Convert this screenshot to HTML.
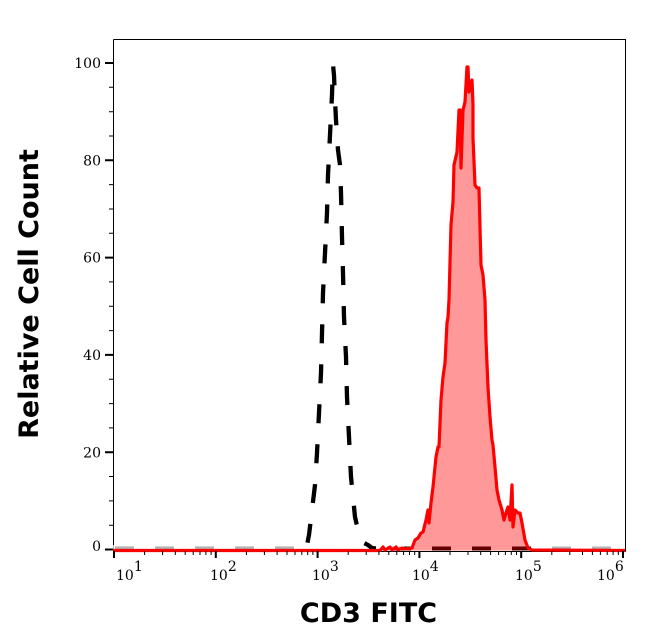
<!DOCTYPE html>
<html>
<head>
<meta charset="utf-8">
<style>
html,body{margin:0;padding:0;background:#fff;}
svg{display:block;}
.tl{font-family:"DejaVu Serif","Liberation Serif",serif;font-size:14px;fill:#000;}
.tt{font-family:"DejaVu Sans","Liberation Sans",sans-serif;font-size:27px;font-weight:bold;fill:#000;}
</style>
</head>
<body>
<svg width="646" height="641" viewBox="0 0 646 641" xmlns="http://www.w3.org/2000/svg">
<rect x="0" y="0" width="646" height="641" fill="#fff"/>

<!-- frame -->
<path d="M113.5 39.5 H625.5 V551.5 M113.5 39.5 V551.5 H625.5" fill="none" stroke="#000" stroke-width="1"/>

<!-- isotype dashed curve -->
<path d="M113 548.5 L306 548.5 L306 550 L309 535 L312 510 L315 485 L317 453 L319 413 L321 373 L322 333 L323 293 L325 253 L327 213 L328 175 L330 135 L332 95 L333 65 L334 75 L335 100 L336 120 L338 150 L340 165 L341 193 L342 237 L343 273 L344 317 L346 357 L347 397 L349 437 L351 477 L355 517 L358 530 L362 542 L368 545 L372 548 L376 548.5"
 fill="none" stroke="#000" stroke-width="4.3" stroke-dasharray="19 21" stroke-dashoffset="38" stroke-linejoin="round"/>
<path d="M376 548.5 L625 548.5" fill="none" stroke="#000" stroke-width="4" stroke-dasharray="19 21" stroke-dashoffset="24"/>
<!-- lighten baseline dashes outside fill -->
<rect x="113" y="545" width="190" height="4" fill="#fff" opacity="0.7"/>
<rect x="376" y="545" width="28" height="4" fill="#fff" opacity="0.7"/>
<rect x="535" y="545" width="90" height="4" fill="#fff" opacity="0.7"/>

<!-- red filled histogram -->
<path d="M113 550.5 L380 550.5 L383 547 L385 550 L390 547 L392 550 L396 547 L398 550 L402 548 L405 549 L412 548 L415 540 L418 538 L421 533 L423 532 L426 520 L428 510 L429 523 L431 503 L433 487 L436 457 L438 447 L439 447 L441 400 L443 377 L445 363 L447 323 L448 317 L449 300 L451 225 L453 202 L454 165 L457 152 L459 110 L460 110 L461 168 L463 110 L465 102 L467 67 L468 67 L469 92 L472 80 L473 105 L473 138 L475 185 L477 188 L479 188 L481 265 L483 275 L485 300 L486 340 L488 387 L490 417 L492 440 L493 445 L495 467 L497 490 L499 500 L502 510 L504 520 L506 513 L508 507 L510 520 L512 485 L513 527 L515 510 L518 513 L520 513 L522 523 L525 540 L528 548 L532 550 L625 550.5 Z"
 fill="rgba(255,0,0,0.4)" stroke="none"/>
<path d="M113 550.5 L380 550.5 L383 547 L385 550 L390 547 L392 550 L396 547 L398 550 L402 548 L405 549 L412 548 L415 540 L418 538 L421 533 L423 532 L426 520 L428 510 L429 523 L431 503 L433 487 L436 457 L438 447 L439 447 L441 400 L443 377 L445 363 L447 323 L448 317 L449 300 L451 225 L453 202 L454 165 L457 152 L459 110 L460 110 L461 168 L463 110 L465 102 L467 67 L468 67 L469 92 L472 80 L473 105 L473 138 L475 185 L477 188 L479 188 L481 265 L483 275 L485 300 L486 340 L488 387 L490 417 L492 440 L493 445 L495 467 L497 490 L499 500 L502 510 L504 520 L506 513 L508 507 L510 520 L512 485 L513 527 L515 510 L518 513 L520 513 L522 523 L525 540 L528 548 L532 550 L625 550.5"
 fill="none" stroke="#ff0000" stroke-width="3.2" stroke-linejoin="round"/>

<!-- y ticks -->
<path d="M105 549.5H113 M105 452.2H113 M105 354.9H113 M105 257.6H113 M105 160.3H113 M105 63H113" stroke="#000" stroke-width="2"/>
<path d="M109 525.2H113 M109 500.9H113 M109 476.5H113 M109 427.9H113 M109 403.6H113 M109 379.2H113 M109 330.6H113 M109 306.3H113 M109 281.9H113 M109 233.3H113 M109 209H113 M109 184.6H113 M109 136H113 M109 111.7H113 M109 87.3H113" stroke="#000" stroke-width="1"/>

<!-- x ticks -->
<path d="M114 551V558 M215.8 551V558 M317.6 551V558 M419.4 551V558 M521.2 551V558 M623 551V558" stroke="#000" stroke-width="2"/>
<path d="M144.6 551V555 M162.6 551V555 M175.3 551V555 M185.2 551V555 M193.2 551V555 M200 551V555 M205.9 551V555 M211.1 551V555
M246.4 551V555 M264.4 551V555 M277.1 551V555 M287 551V555 M295 551V555 M301.8 551V555 M307.7 551V555 M312.9 551V555
M348.2 551V555 M366.2 551V555 M378.9 551V555 M388.8 551V555 M396.8 551V555 M403.6 551V555 M409.5 551V555 M414.7 551V555
M450 551V555 M468 551V555 M480.7 551V555 M490.6 551V555 M498.6 551V555 M505.4 551V555 M511.3 551V555 M516.5 551V555
M551.8 551V555 M569.8 551V555 M582.5 551V555 M592.4 551V555 M600.4 551V555 M607.2 551V555 M613.1 551V555 M618.3 551V555" stroke="#000" stroke-width="1"/>

<!-- y labels -->
<text class="tl" x="101" y="68" text-anchor="end">100</text>
<text class="tl" x="101" y="165.5" text-anchor="end">80</text>
<text class="tl" x="101" y="262.5" text-anchor="end">60</text>
<text class="tl" x="101" y="360" text-anchor="end">40</text>
<text class="tl" x="101" y="457.5" text-anchor="end">20</text>
<text class="tl" x="101" y="551" text-anchor="end">0</text>

<!-- x labels -->
<text class="tl" x="116" y="580">10<tspan dy="-9">1</tspan></text>
<text class="tl" x="210" y="580">10<tspan dy="-9">2</tspan></text>
<text class="tl" x="312" y="580">10<tspan dy="-9">3</tspan></text>
<text class="tl" x="412" y="580">10<tspan dy="-9">4</tspan></text>
<text class="tl" x="515" y="580">10<tspan dy="-9">5</tspan></text>
<text class="tl" x="597" y="580">10<tspan dy="-9">6</tspan></text>

<!-- axis titles -->
<text class="tt" x="368.5" y="622" text-anchor="middle">CD3 FITC</text>
<text class="tt" transform="translate(38,294) rotate(-90)" x="0" y="0" text-anchor="middle">Relative Cell Count</text>
</svg>
</body>
</html>
